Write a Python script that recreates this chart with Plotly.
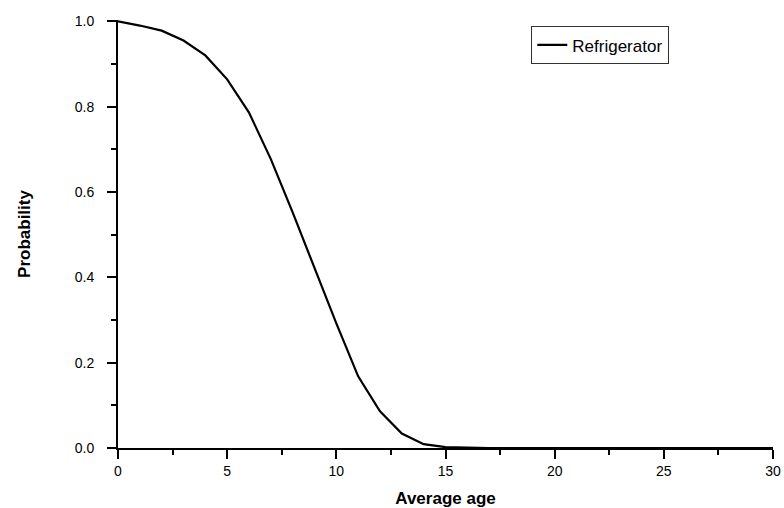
import plotly.graph_objects as go

# Data
age = list(range(0, 31))
probability = [1.0, 0.990, 0.978, 0.955, 0.920, 0.864, 0.786, 0.677, 0.552, 0.420,
               0.292, 0.168, 0.086, 0.034, 0.009, 0.002, 0.0004, 0.0, 0.0, 0.0,
               0.0, 0.0, 0.0, 0.0, 0.0, 0.0, 0.0, 0.0, 0.0, 0.0, 0.0]
x_ticks = [0, 5, 10, 15, 20, 25, 30]
y_ticks = [0.0, 0.2, 0.4, 0.6, 0.8, 1.0]
y_tick_labels = ["0.0", "0.2", "0.4", "0.6", "0.8", "1.0"]

FONT = "Arial, Liberation Sans, sans-serif"

fig = go.Figure()
fig.add_trace(go.Scatter(
    x=age, y=probability, mode="lines", name="Refrigerator",
    line=dict(color="black", width=2.2),
))

fig.update_layout(
    width=784, height=508,
    margin=dict(l=118, r=11, t=20, b=60),
    paper_bgcolor="white", plot_bgcolor="white",
    font=dict(family=FONT, color="black", size=14),
    showlegend=True,
    legend=dict(
        x=0.631, y=0.985, xanchor="left", yanchor="top",
        bordercolor="#333333", borderwidth=1, bgcolor="white",
        font=dict(family=FONT, size=17, color="black"),
        itemwidth=30, tracegroupgap=0,
    ),
    xaxis=dict(
        range=[0, 30], tickvals=x_ticks, ticktext=[str(v) for v in x_ticks],
        automargin=False,
        showline=True, linecolor="black", linewidth=2,
        ticks="outside", ticklen=9, tickwidth=2, tickcolor="black",
        showgrid=False, zeroline=False,
        tickfont=dict(family=FONT, size=14),
        minor=dict(dtick=2.5, tick0=0, ticks="outside", ticklen=5, tickwidth=2,
                   tickcolor="black", showgrid=False),
        title=dict(text="<b>Average age</b>", font=dict(family=FONT, size=17),
                   standoff=14),
    ),
    yaxis=dict(
        range=[0, 1.003], tickvals=y_ticks, ticktext=y_tick_labels,
        automargin=False, ticklabelstandoff=10,
        showline=True, linecolor="black", linewidth=2,
        ticks="outside", ticklen=9, tickwidth=2, tickcolor="black",
        showgrid=False, zeroline=False,
        tickfont=dict(family=FONT, size=14),
        minor=dict(dtick=0.1, tick0=0, ticks="outside", ticklen=5, tickwidth=2,
                   tickcolor="black", showgrid=False),
        title=dict(text="<b>Probability</b>", font=dict(family=FONT, size=17),
                   standoff=40),
    ),
)

# remove the default page margin so the figure fills the window exactly
fig.write_html(
    "out.html",
    config={"displayModeBar": False},
    post_script="document.body.style.margin='0';"
                "document.documentElement.style.overflow='hidden';",
)
